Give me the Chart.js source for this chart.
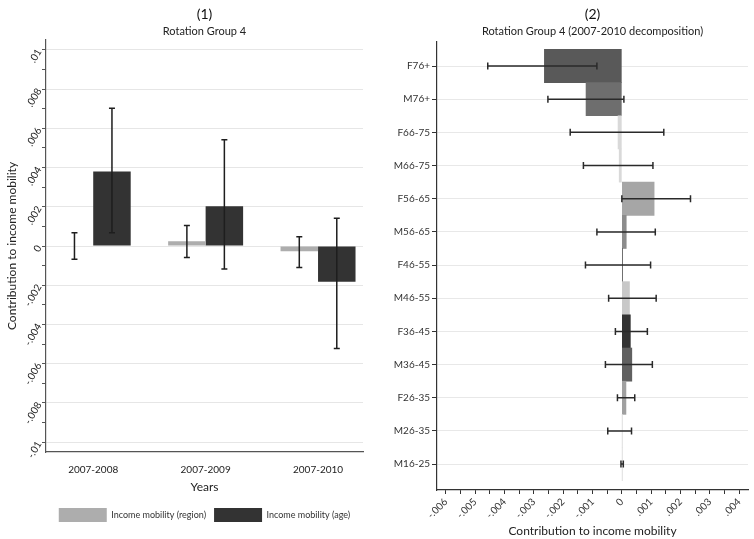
<!DOCTYPE html>
<html>
<head>
<meta charset="utf-8">
<script src="https://cdn.jsdelivr.net/npm/chart.js@4"></script>
<style>
  html, body { margin: 0; padding: 0; background: #fff; }
  #wrap { position: relative; width: 754px; height: 539px; }
  .box { position: absolute; top: 0; height: 539px; }
</style>
</head>
<body>
<div id="wrap">
  <div class="box" style="left:0;width:380px"><canvas id="chartYears"></canvas></div>
  <div class="box" style="left:380px;width:374px"><canvas id="chartGroups"></canvas></div>
</div>
<script>
// Panel (1): contributions by period
const years = ['2007-2008', '2007-2009', '2007-2010'];
const regionValues = [0.00003, 0.00024, -0.00027];
const regionLow = [-0.00068, -0.00059, -0.0011];
const regionHigh = [0.00068, 0.00105, 0.00047];
const ageValues = [0.0038, 0.00202, -0.00182];
const ageLow = [0.00068, -0.00117, -0.00523];
const ageHigh = [0.00702, 0.00541, 0.00141];

// Panel (2): 2007-2010 decomposition by sex/age group
const groups = ['F76+', 'M76+', 'F66-75', 'M66-75', 'F56-65', 'M56-65', 'F46-55',
                'M46-55', 'F36-45', 'M36-45', 'F26-35', 'M26-35', 'M16-25'];
const groupValues = [-0.00264, -0.00122, -0.00013, -0.00009, 0.0011, 0.00015, 0.00002,
                     0.00026, 0.00029, 0.00034, 0.00014, 0.00001, 0.00001];
const groupLow = [-0.00457, -0.00252, -0.00176, -0.00131, 0.0, -0.00085, -0.00124,
                  -0.00045, -0.00022, -0.00056, -0.00015, -0.00048, -0.00003];
const groupHigh = [-0.00085, 0.00007, 0.00143, 0.00106, 0.00234, 0.00114, 0.00098,
                   0.00117, 0.00087, 0.00104, 0.00044, 0.00033, 0.00005];
const groupColors = ['#595959', '#6e6e6e', '#d9d9d9', '#d9d9d9', '#a6a6a6', '#8c8c8c', '#404040',
                     '#c8c8c8', '#333333', '#606060', '#a0a0a0', '#d9d9d9', '#d9d9d9'];

Chart.defaults.font.family = 'Lato, "Liberation Sans", sans-serif';
Chart.defaults.color = '#222';

// Stata-like number labels: .002, -.004, 0
function stataNum(v) {
  if (Math.abs(v) < 1e-9) return '0';
  return String(parseFloat(v.toFixed(4))).replace('0.', '.');
}

// Error bars (CI) drawn on top of the bars
const errorBarsPlugin = {
  id: 'errorBars',
  afterDatasetsDraw(chart, args, opts) {
    const ctx = chart.ctx;
    const horizontal = chart.options.indexAxis === 'y';
    const valueScale = horizontal ? chart.scales.x : chart.scales.y;
    const cap = opts.cap || 3;
    ctx.save();
    ctx.strokeStyle = opts.color || '#222';
    ctx.lineWidth = opts.width || 1.4;
    chart.data.datasets.forEach((ds, di) => {
      if (!ds.errLow) return;
      const meta = chart.getDatasetMeta(di);
      meta.data.forEach((bar, i) => {
        const a = valueScale.getPixelForValue(ds.errLow[i]);
        const b = valueScale.getPixelForValue(ds.errHigh[i]);
        const c = horizontal ? bar.y : bar.x;
        ctx.beginPath();
        if (horizontal) {
          ctx.moveTo(a, c); ctx.lineTo(b, c);
          ctx.moveTo(a, c - cap); ctx.lineTo(a, c + cap);
          ctx.moveTo(b, c - cap); ctx.lineTo(b, c + cap);
        } else {
          ctx.moveTo(c, a); ctx.lineTo(c, b);
          ctx.moveTo(c - cap, a); ctx.lineTo(c + cap, a);
          ctx.moveTo(c - cap, b); ctx.lineTo(c + cap, b);
        }
        ctx.stroke();
      });
    });
    ctx.restore();
  }
};

function stepTicks(from, to, step) {
  const out = [];
  const n = Math.round((to - from) / step);
  for (let i = 0; i <= n; i++) out.push({ value: parseFloat((from + i * step).toFixed(5)) });
  return out;
}

// Panel (1)
new Chart(document.getElementById('chartYears'), {
  type: 'bar',
  data: {
    datasets: [
      {
        label: 'Income mobility (region)',
        data: years.map((y, i) => ({ x: i + 1, y: regionValues[i] })),
        backgroundColor: '#adadad',
        errLow: regionLow,
        errHigh: regionHigh
      },
      {
        label: 'Income mobility (age)',
        data: years.map((y, i) => ({ x: i + 1, y: ageValues[i] })),
        backgroundColor: '#333333',
        errLow: ageLow,
        errHigh: ageHigh
      }
    ]
  },
  options: {
    responsive: true,
    maintainAspectRatio: false,
    animation: false,
    layout: { padding: { left: 0, right: 17, top: 0, bottom: 7 } },
    datasets: { bar: { categoryPercentage: 0.667, barPercentage: 1 } },
    scales: {
      x: {
        type: 'linear',
        min: 0.58,
        max: 3.4,
        offset: false,
        afterBuildTicks: s => { s.ticks = years.map((_, i) => ({ value: i + 1 })); },
        afterFit: s => { s.height = 48; },
        ticks: { callback: v => years[v - 1], font: { size: 10 }, color: '#222', padding: 4,
                 minRotation: 0, maxRotation: 0, autoSkip: false },
        grid: { display: false, offset: false },
        border: { color: '#555', width: 1.2 },
        title: { display: true, text: 'Years', font: { size: 12 }, color: '#222', padding: { top: 0, bottom: 6 } }
      },
      y: {
        min: -0.0105,
        max: 0.0105,
        afterBuildTicks: s => { s.ticks = stepTicks(-0.01, 0.01, 0.001); },
        afterFit: s => { s.width = 46; },
        ticks: {
          callback: v => (Math.round(v * 1000) % 2 === 0 ? stataNum(v) : ''),
          minRotation: 60, maxRotation: 60, font: { size: 10 }, color: '#222', padding: 3, autoSkip: false
        },
        grid: {
          color: c => (c.tick && Math.round(c.tick.value * 1000) % 2 === 0 ? '#e6e6e6' : 'rgba(0,0,0,0)'),
          tickColor: '#555',
          tickLength: 4
        },
        border: { color: '#555', width: 1.2 },
        title: { display: true, text: 'Contribution to income mobility', font: { size: 12 }, color: '#222',
                 padding: { top: 5, bottom: 0 } }
      }
    },
    plugins: {
      title: { display: true, text: '(1)', fullSize: false, font: { size: 14, weight: 'normal' }, color: '#111',
               padding: { top: 6, bottom: 2 } },
      subtitle: { display: true, text: 'Rotation Group 4', fullSize: false, font: { size: 11 }, color: '#222',
                  padding: { top: 0, bottom: 2 } },
      legend: {
        position: 'bottom',
        fullSize: false,
        labels: { boxWidth: 48, boxHeight: 14, font: { size: 9 }, color: '#333', padding: 8 }
      },
      tooltip: { enabled: false },
      errorBars: { cap: 3, width: 1.5, color: '#1e1e1e' }
    }
  },
  plugins: [errorBarsPlugin]
});

// Panel (2)
new Chart(document.getElementById('chartGroups'), {
  type: 'bar',
  data: {
    datasets: [{
      label: 'Contribution',
      data: groups.map((g, i) => ({ x: groupValues[i], y: i + 1 })),
      backgroundColor: groupColors,
      errLow: groupLow,
      errHigh: groupHigh
    }]
  },
  options: {
    indexAxis: 'y',
    responsive: true,
    maintainAspectRatio: false,
    animation: false,
    layout: { padding: { left: 0, right: 6, top: 0, bottom: 0 } },
    datasets: { bar: { categoryPercentage: 1, barPercentage: 1 } },
    scales: {
      y: {
        type: 'linear',
        reverse: true,
        min: 0.276,
        max: 13.78,
        offset: false,
        afterBuildTicks: s => { s.ticks = groups.map((_, i) => ({ value: i + 1 })); },
        afterFit: s => { s.width = 57; },
        ticks: { callback: v => groups[v - 1], font: { size: 10 }, color: '#333', padding: 2, autoSkip: false },
        grid: { color: '#e8e8e8', tickColor: '#333', tickLength: 5, offset: false },
        border: { color: '#333', width: 1.2 }
      },
      x: {
        type: 'linear',
        min: -0.0063,
        max: 0.0043,
        afterBuildTicks: s => { s.ticks = stepTicks(-0.006, 0.004, 0.0005); },
        afterFit: s => { s.height = 49; },
        ticks: {
          callback: v => (Math.abs(Math.round(v * 2000)) % 2 === 0 ? stataNum(v) : ''),
          minRotation: 45, maxRotation: 45, font: { size: 10 }, color: '#333', padding: 2, autoSkip: false
        },
        grid: { drawOnChartArea: false, tickColor: '#333', tickLength: 4 },
        border: { color: '#333', width: 1.2 },
        title: { display: true, text: 'Contribution to income mobility', font: { size: 12 }, color: '#222',
                 padding: { top: 0, bottom: 1 } }
      }
    },
    plugins: {
      title: { display: true, text: '(2)', fullSize: false, font: { size: 14, weight: 'normal' }, color: '#111',
               padding: { top: 6, bottom: 2 } },
      subtitle: { display: true, text: 'Rotation Group 4 (2007-2010 decomposition)', fullSize: false,
                  font: { size: 11 }, color: '#222', padding: { top: 0, bottom: 4 } },
      legend: { display: false },
      tooltip: { enabled: false },
      errorBars: { cap: 3.5, width: 1.5, color: '#2a2a2a' }
    }
  },
  plugins: [errorBarsPlugin]
});
</script>
</body>
</html>
